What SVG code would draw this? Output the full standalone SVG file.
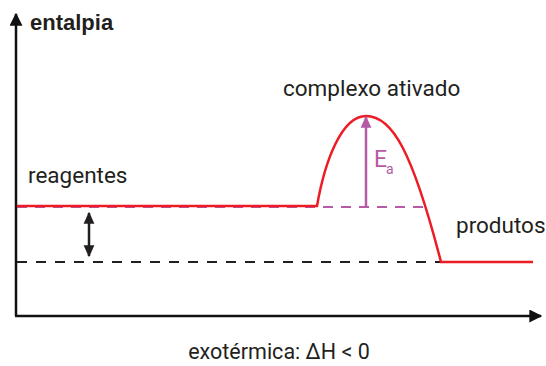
<svg xmlns="http://www.w3.org/2000/svg" width="546" height="366" viewBox="0 0 546 366">
<style>
text{font-family:Roboto,"Liberation Sans",sans-serif;fill:#231f20}
.lbl{font-size:22.5px}
.axis{stroke:#111;stroke-width:2.5;fill:none}
.red{stroke:#ed1c24;stroke-width:2.5;fill:none}
.pdash{stroke:#b55aa5;stroke-width:2.2;stroke-dasharray:10,8;fill:none}
.kdash{stroke:#231f20;stroke-width:2.2;stroke-dasharray:10,9;fill:none}
</style>
<defs>
<marker id="ah" viewBox="0 0 10 10" refX="9" refY="5" markerWidth="16" markerHeight="13" markerUnits="userSpaceOnUse" orient="auto"><path d="M0,0L10,5L0,10z" fill="#111"/></marker>
<marker id="ahd" viewBox="0 0 10 10" refX="9" refY="5" markerWidth="14" markerHeight="12" markerUnits="userSpaceOnUse" orient="auto-start-reverse"><path d="M0,0.5L10,5L0,9.5z" fill="#231f20"/></marker>
<marker id="ahp" viewBox="0 0 10 10" refX="9" refY="5" markerWidth="15" markerHeight="12" markerUnits="userSpaceOnUse" orient="auto"><path d="M0,0.5L10,5L0,9.5z" fill="#b55aa5"/></marker>
</defs>
<g id="axes">
<path class="axis" d="M16,316V14" marker-end="url(#ah)"/>
<path class="axis" d="M15,316H541" marker-end="url(#ah)"/>
<text x="30" y="30" style="font-weight:bold;font-size:22px;font-family:'Liberation Sans',Arial,sans-serif">entalpia</text>
</g>
<g id="connectors">
<path class="kdash" d="M17,262H530"/>
<path class="pdash" d="M17,207H428"/>
<path class="red" d="M17,206H317C325,160 342,116 366,116C392,116 412,150 441,262H533"/>
<path d="M89,213V256" stroke="#231f20" stroke-width="2.5" marker-start="url(#ahd)" marker-end="url(#ahd)"/>
<path d="M366,207V117" stroke="#b55aa5" stroke-width="2.5" marker-end="url(#ahp)"/>
</g>
<g id="reagentes"><text class="lbl" x="28" y="183">reagentes</text></g>
<g id="complexo"><text class="lbl" x="283" y="96">complexo ativado</text></g>
<g id="produtos"><text class="lbl" x="456" y="233">produtos</text></g>
<g id="ea"><text x="374" y="167" style="font-size:23px;fill:#b55aa5">E</text><text x="386" y="174" style="font-size:14px;fill:#b55aa5">a</text></g>
<g id="caption"><text x="279" y="359" text-anchor="middle" style="font-size:21.5px">exotérmica: ΔH &lt; 0</text></g>
</svg>
